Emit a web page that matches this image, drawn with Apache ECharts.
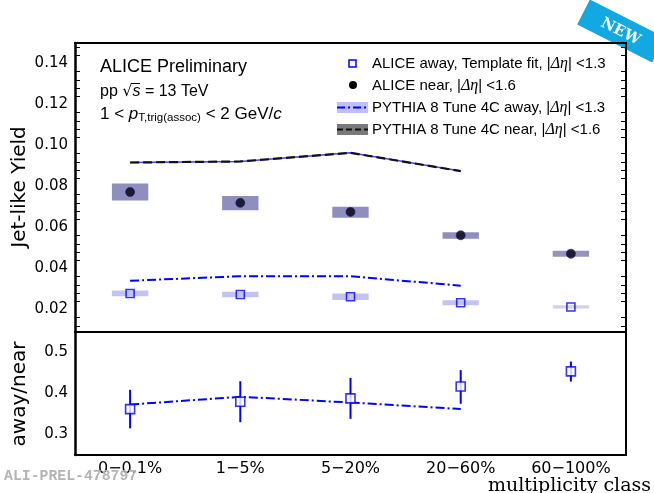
<!DOCTYPE html>
<html lang="en">

<head>
    <meta charset="UTF-8">
    <title>Jet-like yield vs multiplicity</title>
    <script src="https://cdn.jsdelivr.net/npm/echarts@6/dist/echarts.min.js"></script>
    <style>
        body { margin: 0; background: #fff; }
    </style>
</head>

<body>
    <div id="main" style="width: 654px;height:493px;"></div>
    <script type="text/javascript">
        // multiplicity classes
        var categories = ['0\u22120.1%', '1\u22125%', '5\u221220%', '20\u221260%', '60\u2212100%'];

        // ALICE near side yield + systematic box
        var nearYield = [0.0773, 0.0720, 0.0676, 0.0562, 0.0472];
        var nearSystLow = [0.0732, 0.0684, 0.0647, 0.0545, 0.0457];
        var nearSystHigh = [0.0815, 0.0753, 0.0701, 0.0577, 0.0486];

        // ALICE away side yield + systematic box
        var awayYield = [0.0278, 0.0273, 0.0262, 0.0233, 0.0212];
        var awaySystLow = [0.0265, 0.0260, 0.0246, 0.0220, 0.0205];
        var awaySystHigh = [0.0292, 0.0286, 0.0278, 0.0245, 0.0220];

        // PYTHIA 8 curves (no 60-100% point)
        var pythiaNear = [0.0917, 0.0922, 0.0964, 0.0875];
        var pythiaAway = [0.0340, 0.0362, 0.0362, 0.0316];

        // ratio panel
        var ratio = [0.362, 0.380, 0.388, 0.417, 0.454];
        var ratioErrLow = [0.315, 0.330, 0.338, 0.375, 0.429];
        var ratioErrHigh = [0.409, 0.430, 0.438, 0.457, 0.478];
        var pythiaRatio = [0.373, 0.392, 0.378, 0.362];

        var yTopTicks = ['0.02', '0.04', '0.06', '0.08', '0.10', '0.12', '0.14'];
        var yBottomTicks = ['0.3', '0.4', '0.5'];

        var chart = echarts.init(document.getElementById('main'));

        function boxes(low, high) {
            return categories.map(function (c, i) { return [i, low[i], high[i]]; });
        }

        function boxItem(colors, frac) {
            return function (params, api) {
                var i = api.value(0);
                var lo = api.coord([i, api.value(1)]);
                var hi = api.coord([i, api.value(2)]);
                var w = api.size([1, 0])[0] * frac;
                return {
                    type: 'rect',
                    shape: { x: lo[0] - w, y: hi[1], width: 2 * w, height: lo[1] - hi[1] },
                    style: { fill: colors[i] }
                };
            };
        }

        function errItem(params, api) {
            var i = api.value(0);
            var lo = api.coord([i, api.value(1)]);
            var hi = api.coord([i, api.value(2)]);
            return {
                type: 'line',
                shape: { x1: lo[0], y1: lo[1], x2: hi[0], y2: hi[1] },
                style: { stroke: '#0000ff', lineWidth: 2 }
            };
        }

        function pick(list, digits) {
            return function (v) {
                var s = v.toFixed(digits);
                return list.indexOf(s) >= 0 && Math.abs(v - parseFloat(s)) < 1e-6 ? s : '';
            };
        }

        var axisLine = { lineStyle: { color: '#000', width: 2 } };
        var tickIn = { inside: true, length: 9, alignWithLabel: true, lineStyle: { color: '#000', width: 1.2 } };

        function xAx(grid, pos, labels) {
            return {
                gridIndex: grid, type: 'category', data: categories, position: pos,
                boundaryGap: true, axisLine: axisLine, axisTick: tickIn,
                axisLabel: {
                    show: labels, margin: 6, color: '#000',
                    fontFamily: 'DejaVu Sans', fontSize: 16
                },
                splitLine: { show: false }
            };
        }

        var yLabel = { color: '#000', fontFamily: 'DejaVu Sans', fontSize: 15, margin: 7, showMinLabel: false, showMaxLabel: false };

        var option = {
            animation: false,
            backgroundColor: '#fff',
            grid: [
                { left: 75, top: 43, width: 551, height: 289 },
                { left: 75, top: 332, width: 551, height: 123 }
            ],
            xAxis: [xAx(0, 'bottom', false), xAx(0, 'top', false), xAx(1, 'bottom', true), xAx(1, 'top', false)],
            yAxis: [
                {
                    gridIndex: 0, type: 'value', min: 0.009, max: 0.15, splitNumber: 7,
                    minInterval: 0.02, maxInterval: 0.02,
                    axisLine: { show: true, lineStyle: { color: '#000', width: 2.5 } },
                    axisTick: { inside: true, length: 10, lineStyle: { color: '#000', width: 1.2 } },
                    minorTick: { show: true, splitNumber: 5, length: 5, lineStyle: { color: '#000', width: 1 } },
                    axisLabel: Object.assign({ formatter: pick(yTopTicks, 2) }, yLabel),
                    splitLine: { show: false }
                },
                {
                    gridIndex: 0, type: 'value', position: 'right', min: 0.009, max: 0.15, splitNumber: 7,
                    minInterval: 0.02, maxInterval: 0.02,
                    axisLine: { show: true, lineStyle: { color: '#000', width: 2 } },
                    axisTick: { inside: true, length: 10, lineStyle: { color: '#000', width: 1.2 } },
                    minorTick: { show: true, splitNumber: 5, length: 5, lineStyle: { color: '#000', width: 1 } },
                    axisLabel: { show: false },
                    splitLine: { show: false }
                },
                {
                    gridIndex: 1, type: 'value', min: 0.25, max: 0.55, splitNumber: 3,
                    axisLine: { show: true, lineStyle: { color: '#000', width: 2.5 } },
                    axisTick: { inside: true, length: 10, lineStyle: { color: '#000', width: 1.2 } },
                    axisLabel: Object.assign({ formatter: pick(yBottomTicks, 1) }, yLabel),
                    splitLine: { show: false }
                },
                {
                    gridIndex: 1, type: 'value', position: 'right', min: 0.25, max: 0.55,
                    axisLine: { show: true, lineStyle: { color: '#000', width: 2 } },
                    axisTick: { show: false }, axisLabel: { show: false },
                    splitLine: { show: false }
                }
            ],
            series: [
                {
                    name: 'near syst', type: 'custom', xAxisIndex: 0, yAxisIndex: 0,
                    renderItem: boxItem(['#8f8fbf', '#8f8fbf', '#8f8fbf', '#8f8fbf', '#9494bf'], 0.165),
                    data: boxes(nearSystLow, nearSystHigh), z: 1
                },
                {
                    name: 'away syst', type: 'custom', xAxisIndex: 0, yAxisIndex: 0,
                    renderItem: boxItem(['#c3c3f2', '#c3c3f2', '#c3c3f2', '#c3c3f2', '#d2d2e6'], 0.165),
                    data: boxes(awaySystLow, awaySystHigh), z: 1
                },
                {
                    name: 'PYTHIA 8 Tune 4C near band', type: 'line', xAxisIndex: 0, yAxisIndex: 0,
                    data: pythiaNear, symbol: 'none',
                    lineStyle: { color: '#4040ff', width: 1.5 }, z: 2
                },
                {
                    name: 'PYTHIA 8 Tune 4C near', type: 'line', xAxisIndex: 0, yAxisIndex: 0,
                    data: pythiaNear, symbol: 'none',
                    lineStyle: { color: '#111', width: 2.2, type: [9, 4] }, z: 3
                },
                {
                    name: 'PYTHIA 8 Tune 4C away', type: 'line', xAxisIndex: 0, yAxisIndex: 0,
                    data: pythiaAway, symbol: 'none',
                    lineStyle: { color: '#0000ff', width: 2, type: [9, 3, 2, 3] }, z: 3
                },
                {
                    name: 'ALICE near', type: 'scatter', xAxisIndex: 0, yAxisIndex: 0,
                    data: nearYield, symbol: 'circle', symbolSize: 9,
                    itemStyle: { color: '#000', borderColor: '#1010a0', borderWidth: 0.8 }, z: 4
                },
                {
                    name: 'ALICE away', type: 'scatter', xAxisIndex: 0, yAxisIndex: 0,
                    data: awayYield, symbol: 'rect', symbolSize: 8,
                    itemStyle: { color: 'rgba(0,0,0,0)', borderColor: '#0000ff', borderWidth: 1.6 }, z: 4
                },
                {
                    name: 'PYTHIA ratio', type: 'line', xAxisIndex: 2, yAxisIndex: 2,
                    data: pythiaRatio, symbol: 'none',
                    lineStyle: { color: '#0000ff', width: 2, type: [9, 3, 2, 3] }, z: 3
                },
                {
                    name: 'ratio err', type: 'custom', xAxisIndex: 2, yAxisIndex: 2,
                    renderItem: errItem,
                    data: boxes(ratioErrLow, ratioErrHigh), z: 4
                },
                {
                    name: 'away/near', type: 'scatter', xAxisIndex: 2, yAxisIndex: 2,
                    data: ratio, symbol: 'rect', symbolSize: 9,
                    itemStyle: { color: '#fff', borderColor: '#0000ff', borderWidth: 1.6 }, z: 5
                }
            ],
            graphic: [
                // axis titles
                {
                    type: 'text', x: 20, y: 187, rotation: Math.PI / 2, z: 10,
                    style: { text: 'Jet-like Yield', fontFamily: 'DejaVu Sans', fontSize: 20, fill: '#000', align: 'center', verticalAlign: 'middle' }
                },
                {
                    type: 'text', x: 20, y: 394, rotation: Math.PI / 2, z: 10,
                    style: { text: 'away/near', fontFamily: 'DejaVu Sans', fontSize: 20, fill: '#000', align: 'center', verticalAlign: 'middle' }
                },
                {
                    type: 'text', x: 651, y: 486, z: 10,
                    style: { text: 'multiplicity class', fontFamily: 'DejaVu Serif', fontSize: 19, fill: '#000', align: 'right', verticalAlign: 'middle' }
                },
                {
                    type: 'text', x: 4, y: 476, z: 10,
                    style: { text: 'ALI-PREL-478797', fontFamily: 'Liberation Mono', fontWeight: 'bold', fontSize: 14.8, fill: '#b4b4b4', align: 'left', verticalAlign: 'middle' }
                },
                // labels top-left
                {
                    type: 'text', x: 100, y: 67, z: 10,
                    style: { text: 'ALICE Preliminary', fontFamily: 'Liberation Sans', fontSize: 18, fill: '#000', verticalAlign: 'middle' }
                },
                {
                    type: 'text', x: 100, y: 92, z: 10,
                    style: {
                        text: '{n|pp }{r|\u221A}{i|s}{n| = 13 TeV}',
                        verticalAlign: 'middle',
                        rich: {
                            n: { fontFamily: 'Liberation Sans', fontSize: 16, fill: '#000' },
                            r: { fontFamily: 'DejaVu Sans', fontSize: 16, fill: '#000' },
                            i: { fontFamily: 'Liberation Sans', fontStyle: 'italic', fontSize: 16, fill: '#000' }
                        }
                    }
                },
                { type: 'line', z: 10, shape: { x1: 131, y1: 83.5, x2: 140, y2: 83.5 }, style: { stroke: '#000', lineWidth: 1 } },
                {
                    type: 'text', x: 100, y: 114, z: 10,
                    style: {
                        text: '{n|1 < }{i|p}{s|T,trig(assoc)}{n| < 2 GeV/}{i|c}',
                        verticalAlign: 'middle',
                        rich: {
                            n: { fontFamily: 'Liberation Sans', fontSize: 17, fill: '#000', lineHeight: 20 },
                            i: { fontFamily: 'Liberation Sans', fontStyle: 'italic', fontSize: 17, fill: '#000', lineHeight: 20 },
                            s: { fontFamily: 'Liberation Sans', fontSize: 11.5, fill: '#000', lineHeight: 10, verticalAlign: 'bottom' }
                        }
                    }
                },
                // legend
                {
                    type: 'rect', z: 10, shape: { x: 349, y: 60, width: 7, height: 7 },
                    style: { fill: '#fff', stroke: '#0000ff', lineWidth: 1.5 }
                },
                { type: 'circle', z: 10, shape: { cx: 353, cy: 85, r: 4 }, style: { fill: '#000' } },
                { type: 'rect', z: 10, shape: { x: 337, y: 102, width: 31, height: 11 }, style: { fill: '#8d8dff', opacity: 0.55 } },
                { type: 'line', z: 11, shape: { x1: 337, y1: 107.5, x2: 368, y2: 107.5 }, style: { stroke: '#0000ff', lineWidth: 2, lineDash: [8, 3, 2, 3] } },
                { type: 'rect', z: 10, shape: { x: 337, y: 124, width: 31, height: 11 }, style: { fill: '#7a7a7a' } },
                { type: 'line', z: 11, shape: { x1: 337, y1: 129.5, x2: 368, y2: 129.5 }, style: { stroke: '#111', lineWidth: 2, lineDash: [6, 3] } },
                legendText(64, 'ALICE away, Template fit, ', '<1.3'),
                legendText(86, 'ALICE near, ', '<1.6'),
                legendText(108, 'PYTHIA 8 Tune 4C away, ', '<1.3'),
                legendText(130, 'PYTHIA 8 Tune 4C near, ', '<1.6'),
                // NEW badge
                {
                    type: 'group', x: 621, y: 31, rotation: -0.47, z: 20,
                    children: [
                        { type: 'rect', shape: { x: -42, y: -14, width: 84, height: 28 }, style: { fill: '#12a8e2' } },
                        {
                            type: 'text', x: 0, y: 1,
                            style: { text: 'NEW', fontFamily: 'DejaVu Serif', fontWeight: 'bold', fontSize: 15, fill: '#fff', align: 'center', verticalAlign: 'middle' }
                        }
                    ]
                }
            ]
        };

        function legendText(y, head, tail) {
            return {
                type: 'text', x: 372, y: y, z: 10,
                style: {
                    text: '{n|' + head + '|}{i|\u0394\u03B7}{n|| ' + tail + '}',
                    verticalAlign: 'middle',
                    rich: {
                        n: { fontFamily: 'Liberation Sans', fontSize: 15, fill: '#000' },
                        i: { fontFamily: 'Liberation Serif', fontStyle: 'italic', fontSize: 16, fill: '#000' }
                    }
                }
            };
        }

        chart.setOption(option);
    </script>
</body>

</html>
